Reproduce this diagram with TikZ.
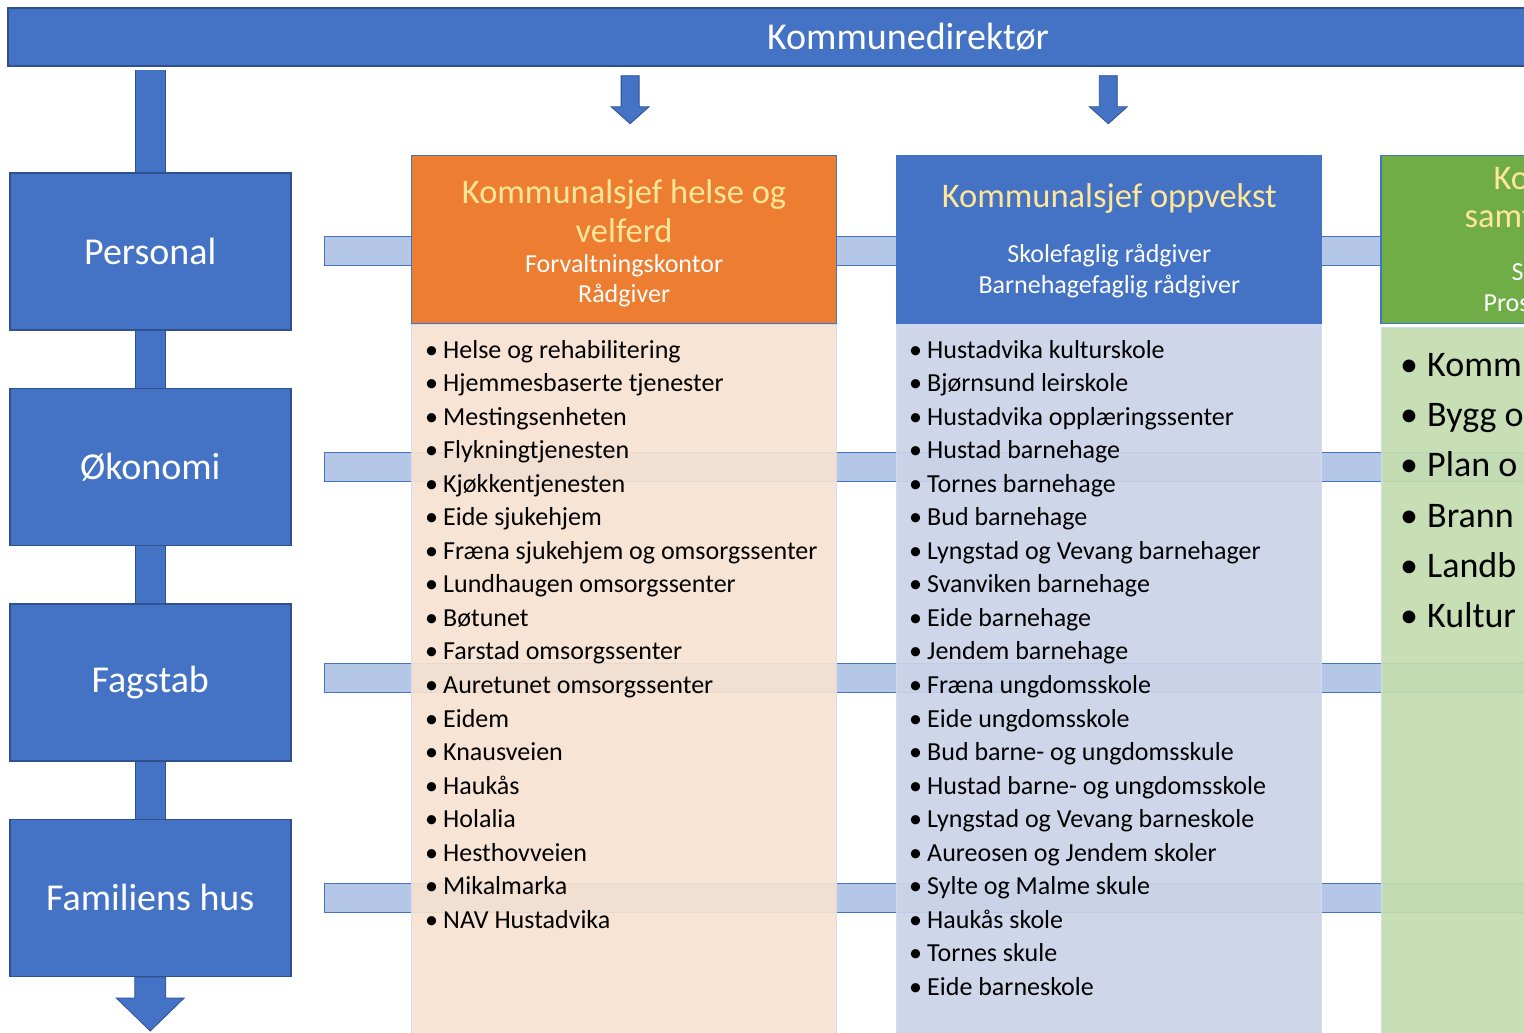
\documentclass[tikz,border=0pt]{standalone}
\usepackage{fontspec}
\setmainfont{Carlito}
\usetikzlibrary{positioning,calc}
\definecolor{orgblue}{HTML}{4472C4}
\definecolor{orgdark}{HTML}{2F528F}
\definecolor{orgbar}{HTML}{B4C7E7}
\definecolor{orgorange}{HTML}{ED7D31}
\definecolor{orggreen}{HTML}{70AD47}
\definecolor{orgyellow}{HTML}{FFE699}
\definecolor{bodyorange}{HTML}{F7E2D1}
\definecolor{bodyblue}{HTML}{CCD3E8}
\definecolor{bodygreen}{HTML}{C4DDAF}
\tikzset{
  topbar/.style={rectangle, draw=orgdark, line width=1.5pt, fill=orgblue, text=white, minimum width=1800, minimum height=58, font=\fontsize{38}{44}\selectfont},
  staffbox/.style={rectangle, draw=orgdark, line width=1.5pt, fill=orgblue, text=white, minimum width=281, minimum height=157, anchor=north west, font=\fontsize{38}{44}\selectfont},
  vconn/.style={draw=orgdark, line width=1pt, double=orgblue, double distance=29pt},
  hbar/.style={draw=orgblue, line width=1.2pt, fill=orgbar},
  arrowfill/.style={fill=orgblue, draw=orgdark, line width=0.8pt},
  colhead/.style={rectangle, draw=orgblue, line width=1.2pt, minimum width=425, minimum height=168},
  colbody/.style={rectangle, draw=orgblue!25, line width=0.8pt, fill opacity=0.92, minimum width=425, minimum height=730, anchor=north},
  headtitle/.style={text=orgyellow, align=center, font=\fontsize{34.5}{39}\selectfont},
  headsub/.style={text=white, align=center, font=\fontsize{26}{30}\selectfont},
  fragtitle/.style={text=orgyellow, anchor=west, inner sep=0pt, text height=24, text depth=7, font=\fontsize{34.5}{39}\selectfont},
  fragsub/.style={text=white, anchor=west, inner sep=0pt, text height=18, text depth=6, font=\fontsize{26}{30}\selectfont},
  item/.style={anchor=west, inner sep=0pt, text height=18, text depth=6, font=\fontsize{26}{30}\selectfont},
  bigitem/.style={anchor=west, inner sep=0pt, text height=26, text depth=9, font=\fontsize{36}{44}\selectfont},
  pics/dnarrow/.style args={#1/#2/#3/#4}{code={
    \filldraw[arrowfill] (-#1,0) -- (-#1,-#3) -- (-#2,-#3) -- (0,{-#3-#4}) -- (#2,-#3) -- (#1,-#3) -- (#1,0) -- cycle;}},
}
\begin{document}
\begin{tikzpicture}[x=1pt, y=1pt, node distance=57pt]
  \useasboundingbox (0,0) rectangle (1524,-1033);
  \clip (0,0) rectangle (1524,-1033);
  \fill[white] (0,0) rectangle (1524,-1033);
  % top of the organisation
  \node[topbar] (dir) at (908,-37) {Kommunedirektør};
  % staff column
  \node[staffbox] (pers) at (9,-172) {Personal};
  \node[staffbox, below=of pers] (okon) {Økonomi};
  \node[staffbox, below=of okon] (fag) {Fagstab};
  \node[staffbox, below=of fag] (fam) {Familiens hus};
  \draw[vconn] (pers.north) -- ++(0,102);
  \draw[vconn] (pers.south) -- (okon.north);
  \draw[vconn] (okon.south) -- (fag.north);
  \draw[vconn] (fag.south) -- (fam.north);
  \pic at (fam.south) {dnarrow=15.5/34/21/33};
  % bars to the right of the staff boxes
  \foreach \b/\dy in {pers/0, okon/0, fag/4.5, fam/0}
    \draw[hbar] ($(\b.east)+(33,14.5+\dy)$) rectangle ($(\b.east)+(1400,-14.5+\dy)$);
  % columns
  \node[colhead, fill=orgorange, anchor=north west] (hhead) at (411,-155) {};
  \node[colhead, fill=orgblue, right=59pt of hhead] (ohead) {};
  \node[colhead, fill=orggreen, right=58pt of ohead] (shead) {};
  \node[colbody, fill=bodyorange] (hbody) at (hhead.south) {};
  \node[colbody, fill=bodyblue] (obody) at (ohead.south) {};
  \node[colbody, fill=bodygreen] (sbody) at ($(shead.south)+(0,-3)$) {};
  \pic at ($(dir.south -| hhead.north)+(6,-9)$) {dnarrow=9/19/31/17};
  \pic at ($(dir.south -| ohead.north)+(-1,-9)$) {dnarrow=9/19/31/17};
  % headings
  \node[headtitle] (htitle) at ($(hhead.north)+(0,-56)$) {Kommunalsjef helse og\\velferd};
  \node[headsub] (hsub) at ($(hhead.north)+(0,-125.5)$) {Forvaltningskontor\\Rådgiver};
  \node[headtitle] (otitle) at ($(ohead.north)+(0,-43.5)$) {Kommunalsjef oppvekst};
  \node[headsub, font=\fontsize{26}{31}\selectfont] (osub) at ($(ohead.north)+(0,-116.5)$) {Skolefaglig rådgiver\\Barnehagefaglig rådgiver};
  \node[fragtitle] (stitlea) at ($(shead.north west)+(113,-26)$) {Ko};
  \node[fragtitle] (stitleb) at ($(shead.north west)+(84,-64)$) {samf};
  \node[fragsub] (ssuba) at ($(shead.north west)+(131,-119)$) {S};
  \node[fragsub] (ssubb) at ($(shead.north west)+(103,-150)$) {Pros};
  % lists
  \foreach \t [count=\i from 0] in {Helse og rehabilitering, Hjemmesbaserte tjenester, Mestingsenheten, Flykningtjenesten, Kjøkkentjenesten, Eide sjukehjem, Fræna sjukehjem og omsorgssenter, Lundhaugen omsorgssenter, Bøtunet, Farstad omsorgssenter, Auretunet omsorgssenter, Eidem, Knausveien, Haukås, Holalia, Hesthovveien, Mikalmarka, NAV Hustadvika} {
    \node[item] (hdot\i) at (425,{-352-33.55*\i}) {\textbullet};
    \node[item] (hitem\i) at (443,{-352-33.55*\i}) {\t};
  }
  \foreach \t [count=\i from 0] in {Hustadvika kulturskole, Bjørnsund leirskole, Hustadvika opplæringssenter, Hustad barnehage, Tornes barnehage, Bud barnehage, Lyngstad og Vevang barnehager, Svanviken barnehage, Eide barnehage, Jendem barnehage, Fræna ungdomsskole, Eide ungdomsskole, Bud barne- og ungdomsskule, Hustad barne- og ungdomsskole, Lyngstad og Vevang barneskole, Aureosen og Jendem skoler, Sylte og Malme skule, Haukås skole, Tornes skule, Eide barneskole} {
    \node[item] (odot\i) at (909,{-352-33.55*\i}) {\textbullet};
    \node[item] (oitem\i) at (927,{-352-33.55*\i}) {\t};
  }
  \foreach \t [count=\i from 0] in {Komm, Bygg o, Plan o, Brann, Landb, Kultur} {
    \node[bigitem] (sdot\i) at (1400,{-368-50.2*\i}) {\textbullet};
    \node[bigitem] (sitem\i) at (1427,{-368-50.2*\i}) {\t};
  }
\end{tikzpicture}
\end{document}
